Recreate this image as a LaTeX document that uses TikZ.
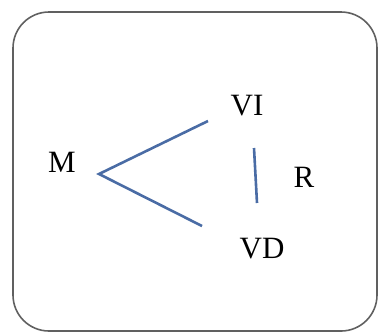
\documentclass[tikz,border=0pt]{standalone}
\usepackage{fontspec}
\setmainfont{Liberation Serif}
\usepackage{tikz}
\usetikzlibrary{positioning}

\definecolor{linkblue}{RGB}{74,108,165}

\begin{document}
\begin{tikzpicture}[x=0.5pt,y=-0.5pt,font=\fontsize{15.5}{17}\selectfont,
  lbl/.style={inner sep=0pt,anchor=center},
  link/.style={line width=1.3pt,color=linkblue},
  frame/.style={draw=gray!75!black,line width=0.8pt,rounded corners=18pt}]
\useasboundingbox (0,0) rectangle (379,333);
\draw[frame] (13,12) rectangle (377,331);
\node[lbl] (M)  at (62,162)  {M};
\node[lbl] (VI) at (247,106) {VI};
\node[lbl] (R)  at (304,177) {R};
\node[lbl] (VD) at (262,249) {VD};
\coordinate (fork)  at (99,174);
\coordinate (viEnd) at (208,121);
\coordinate (vdEnd) at (202,226);
\coordinate (rTop)  at (254,148);
\coordinate (rBot)  at (257,203);
\draw[link] (viEnd)--(fork)--(vdEnd);
\draw[link] (rTop)--(rBot);
\end{tikzpicture}
\end{document}
